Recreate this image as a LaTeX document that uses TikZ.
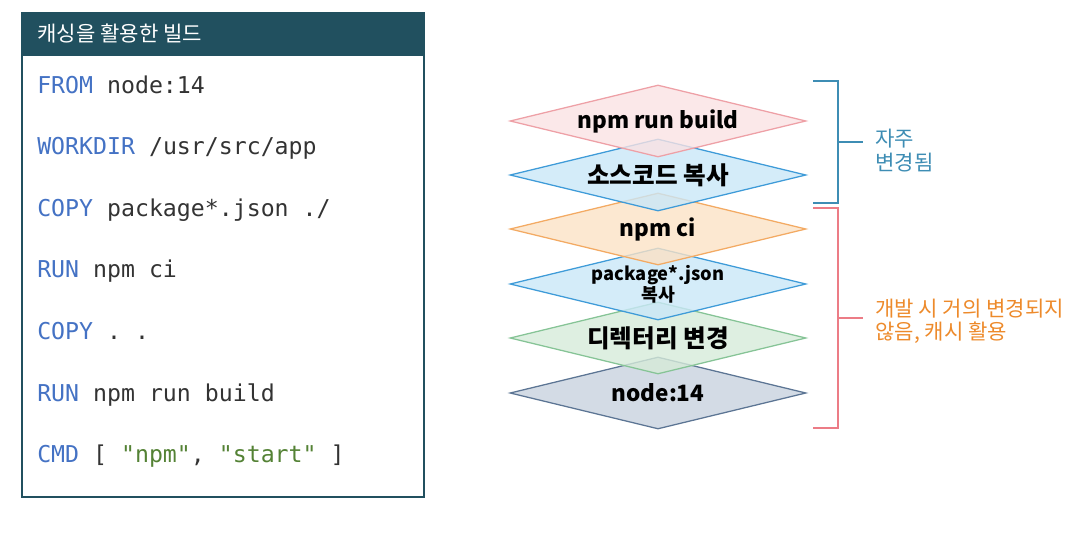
\documentclass[tikz,border=0pt]{standalone}
\usepackage{fontspec}
\setmainfont{Noto Sans CJK KR}
\setmonofont{DejaVu Sans Mono}
\usepackage{xcolor}
\usetikzlibrary{shapes.geometric}
\definecolor{hdr}{HTML}{21505F}
\definecolor{kwblue}{HTML}{4472C4}
\definecolor{strgreen}{HTML}{548235}
\definecolor{codetxt}{HTML}{333333}
\definecolor{pinkfill}{HTML}{FAE2E3}
\definecolor{pinkline}{HTML}{EEA0A6}
\definecolor{bluefill}{HTML}{C9E7F8}
\definecolor{blueline}{HTML}{3E9BD8}
\definecolor{orfill}{HTML}{FBE2C5}
\definecolor{orline}{HTML}{F3AA63}
\definecolor{grfill}{HTML}{D6EBD9}
\definecolor{grline}{HTML}{86C496}
\definecolor{gyfill}{HTML}{C8D2DE}
\definecolor{gyline}{HTML}{5C7594}
\definecolor{brblue}{HTML}{3E8DB4}
\definecolor{brred}{HTML}{EC7C86}
\definecolor{lborange}{HTML}{ED8A2B}
\newcommand{\kw}[1]{\textcolor{kwblue}{#1}}
\newcommand{\strg}[1]{\textcolor{strgreen}{#1}}
\tikzset{
  code/.style={anchor=base west,inner sep=0,text=codetxt,font=\ttfamily\fontsize{16.5}{18}\selectfont},
  layer/.style={diamond,aspect=4.1,inner sep=0,minimum width=7.4cm,minimum height=1.8cm,
    line width=0.9pt,fill opacity=0.8,text opacity=1,font=\bfseries\fontsize{16}{18}\selectfont,text=black},
  krlayer/.style={layer,font=\bfseries\fontsize{17.5}{19}\selectfont},
  note/.style={anchor=west,align=left,inner sep=0,font=\fontsize{15}{16.5}\selectfont}
}
\begin{document}
\begin{tikzpicture}[x=0.025cm,y=-0.025cm]
      \useasboundingbox (0,0) rectangle (1092,546);
      % Dockerfile box
      \fill [hdr] (22,13) rectangle (424,56);
      \draw [hdr,line width=1.5pt] (22,13) rectangle (424,497);
      \node [anchor=base west,inner sep=0,text=white,font=\fontsize{15}{17}\selectfont] (title) at (37,42) {캐싱을 활용한 빌드};
      \node [code] (l1) at (37,93) {\kw{FROM} node:14};
      \node [code] (l2) at (37,154.6) {\kw{WORKDIR} /usr/src/app};
      \node [code] (l3) at (37,216.2) {\kw{COPY} package*.json ./};
      \node [code] (l4) at (37,277.8) {\kw{RUN} npm ci};
      \node [code] (l5) at (37,339.4) {\kw{COPY} . .};
      \node [code] (l6) at (37,401) {\kw{RUN} npm run build};
      \node [code] (l7) at (37,462.6) {\kw{CMD} [ \strg{"npm"}, \strg{"start"} ]};
      % image layers, bottom first
      \node [layer,draw=gyline,fill=gyfill] (base) at (658,393) {node:14};
      \node [krlayer,draw=grline,fill=grfill] (workdir) at (658,338) {디렉터리 변경};
      \node [layer,draw=blueline,fill=bluefill,align=center,font=\bfseries\fontsize{13}{14}\selectfont] (pkgcopy) at (658,284) {package*.json\\복사};
      \node [layer,draw=orline,fill=orfill] (npmci) at (658,229) {npm ci};
      \node [krlayer,draw=blueline,fill=bluefill] (srccopy) at (658,175) {소스코드 복사};
      \node [layer,draw=pinkline,fill=pinkfill] (build) at (658,121) {npm run build};
      % brackets
      \draw [brblue,line width=0.9pt] (813,81) -- (838,81) -- (838,203) -- (813,203);
      \draw [brblue,line width=0.9pt] (838,142) -- (863,142);
      \draw [brred,line width=0.9pt] (813,208) -- (838,208) -- (838,428) -- (813,428);
      \draw [brred,line width=0.9pt] (838,318) -- (863,318);
      \node [note,text=brblue] (often) at (875,150.5) {자주\\변경됨};
      \node [note,text=lborange] (cached) at (875,321) {개발 시 거의 변경되지\\않음, 캐시 활용};
\end{tikzpicture}
\end{document}
